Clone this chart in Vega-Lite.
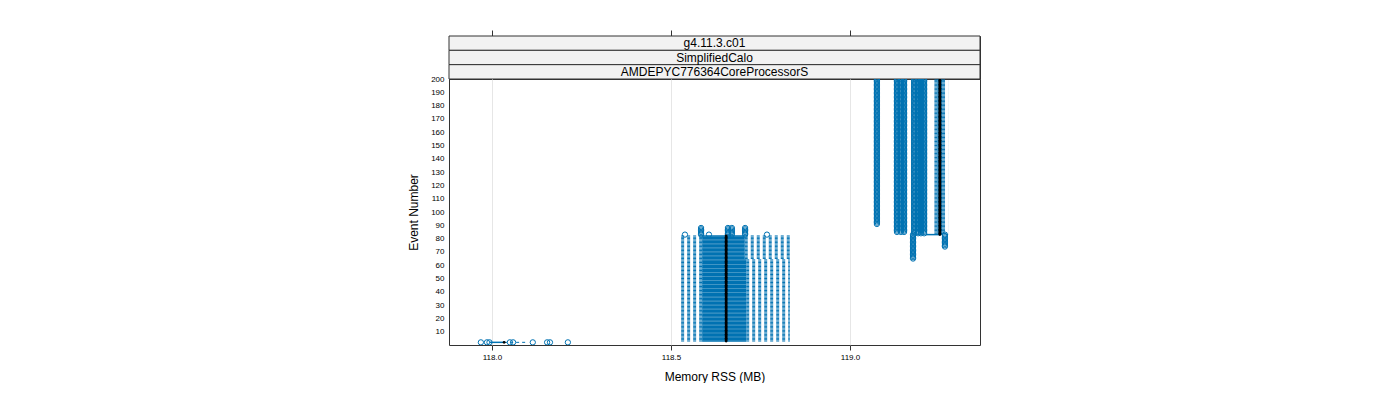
{
"$schema":"https://vega.github.io/schema/vega-lite/v6.json",
"padding":{"left":407,"top":29,"right":0,"bottom":0},
"bounds":"flush",
"config":{"font":"Liberation Sans","view":{"stroke":"#333333","strokeWidth":1},"axis":{"labelColor":"black","titleColor":"black","titleFontWeight":"normal","titleFontSize":12,"labelFontSize":8},"axisY":{"labelOverlap":false}},
"spacing":0,
"datasets":{
"stats":[
{"event":2,"lo":117.994,"q1":117.994,"med":118.034,"q3":118.034,"hi":118.1},
{"event":3,"lo":118.52,"q1":118.587,"med":118.654,"q3":118.71,"hi":118.832},
{"event":4,"lo":118.52,"q1":118.587,"med":118.654,"q3":118.71,"hi":118.832},
{"event":5,"lo":118.52,"q1":118.587,"med":118.654,"q3":118.71,"hi":118.832},
{"event":6,"lo":118.52,"q1":118.587,"med":118.654,"q3":118.71,"hi":118.832},
{"event":7,"lo":118.52,"q1":118.587,"med":118.654,"q3":118.71,"hi":118.832},
{"event":8,"lo":118.52,"q1":118.587,"med":118.654,"q3":118.71,"hi":118.832},
{"event":9,"lo":118.52,"q1":118.587,"med":118.654,"q3":118.71,"hi":118.832},
{"event":10,"lo":118.52,"q1":118.587,"med":118.654,"q3":118.71,"hi":118.832},
{"event":11,"lo":118.52,"q1":118.587,"med":118.654,"q3":118.71,"hi":118.832},
{"event":12,"lo":118.52,"q1":118.587,"med":118.654,"q3":118.71,"hi":118.832},
{"event":13,"lo":118.52,"q1":118.587,"med":118.654,"q3":118.71,"hi":118.832},
{"event":14,"lo":118.52,"q1":118.587,"med":118.654,"q3":118.71,"hi":118.832},
{"event":15,"lo":118.52,"q1":118.587,"med":118.654,"q3":118.71,"hi":118.832},
{"event":16,"lo":118.52,"q1":118.587,"med":118.654,"q3":118.71,"hi":118.832},
{"event":17,"lo":118.52,"q1":118.587,"med":118.654,"q3":118.71,"hi":118.832},
{"event":18,"lo":118.52,"q1":118.587,"med":118.654,"q3":118.71,"hi":118.832},
{"event":19,"lo":118.52,"q1":118.587,"med":118.654,"q3":118.71,"hi":118.832},
{"event":20,"lo":118.52,"q1":118.587,"med":118.654,"q3":118.71,"hi":118.832},
{"event":21,"lo":118.52,"q1":118.587,"med":118.654,"q3":118.71,"hi":118.832},
{"event":22,"lo":118.52,"q1":118.587,"med":118.654,"q3":118.71,"hi":118.832},
{"event":23,"lo":118.52,"q1":118.587,"med":118.654,"q3":118.71,"hi":118.832},
{"event":24,"lo":118.52,"q1":118.587,"med":118.654,"q3":118.71,"hi":118.832},
{"event":25,"lo":118.52,"q1":118.587,"med":118.654,"q3":118.71,"hi":118.832},
{"event":26,"lo":118.52,"q1":118.587,"med":118.654,"q3":118.71,"hi":118.832},
{"event":27,"lo":118.52,"q1":118.587,"med":118.654,"q3":118.71,"hi":118.832},
{"event":28,"lo":118.52,"q1":118.587,"med":118.654,"q3":118.71,"hi":118.832},
{"event":29,"lo":118.52,"q1":118.587,"med":118.654,"q3":118.71,"hi":118.832},
{"event":30,"lo":118.52,"q1":118.587,"med":118.654,"q3":118.71,"hi":118.832},
{"event":31,"lo":118.52,"q1":118.587,"med":118.654,"q3":118.71,"hi":118.832},
{"event":32,"lo":118.52,"q1":118.587,"med":118.654,"q3":118.71,"hi":118.832},
{"event":33,"lo":118.52,"q1":118.587,"med":118.654,"q3":118.71,"hi":118.832},
{"event":34,"lo":118.52,"q1":118.587,"med":118.654,"q3":118.71,"hi":118.832},
{"event":35,"lo":118.52,"q1":118.587,"med":118.654,"q3":118.71,"hi":118.832},
{"event":36,"lo":118.52,"q1":118.587,"med":118.654,"q3":118.71,"hi":118.832},
{"event":37,"lo":118.52,"q1":118.587,"med":118.654,"q3":118.71,"hi":118.832},
{"event":38,"lo":118.52,"q1":118.587,"med":118.654,"q3":118.71,"hi":118.832},
{"event":39,"lo":118.52,"q1":118.587,"med":118.654,"q3":118.71,"hi":118.832},
{"event":40,"lo":118.52,"q1":118.587,"med":118.654,"q3":118.71,"hi":118.832},
{"event":41,"lo":118.52,"q1":118.587,"med":118.654,"q3":118.71,"hi":118.832},
{"event":42,"lo":118.52,"q1":118.587,"med":118.654,"q3":118.71,"hi":118.832},
{"event":43,"lo":118.52,"q1":118.587,"med":118.654,"q3":118.71,"hi":118.832},
{"event":44,"lo":118.52,"q1":118.587,"med":118.654,"q3":118.71,"hi":118.832},
{"event":45,"lo":118.52,"q1":118.587,"med":118.654,"q3":118.71,"hi":118.832},
{"event":46,"lo":118.52,"q1":118.587,"med":118.654,"q3":118.71,"hi":118.832},
{"event":47,"lo":118.52,"q1":118.587,"med":118.654,"q3":118.71,"hi":118.832},
{"event":48,"lo":118.52,"q1":118.587,"med":118.654,"q3":118.71,"hi":118.832},
{"event":49,"lo":118.52,"q1":118.587,"med":118.654,"q3":118.71,"hi":118.832},
{"event":50,"lo":118.52,"q1":118.587,"med":118.654,"q3":118.71,"hi":118.832},
{"event":51,"lo":118.52,"q1":118.587,"med":118.654,"q3":118.71,"hi":118.832},
{"event":52,"lo":118.52,"q1":118.587,"med":118.654,"q3":118.71,"hi":118.832},
{"event":53,"lo":118.52,"q1":118.587,"med":118.654,"q3":118.71,"hi":118.832},
{"event":54,"lo":118.52,"q1":118.587,"med":118.654,"q3":118.71,"hi":118.832},
{"event":55,"lo":118.52,"q1":118.587,"med":118.654,"q3":118.71,"hi":118.832},
{"event":56,"lo":118.52,"q1":118.587,"med":118.654,"q3":118.71,"hi":118.832},
{"event":57,"lo":118.52,"q1":118.587,"med":118.654,"q3":118.71,"hi":118.832},
{"event":58,"lo":118.52,"q1":118.587,"med":118.654,"q3":118.71,"hi":118.832},
{"event":59,"lo":118.52,"q1":118.587,"med":118.654,"q3":118.71,"hi":118.832},
{"event":60,"lo":118.52,"q1":118.587,"med":118.654,"q3":118.71,"hi":118.832},
{"event":61,"lo":118.52,"q1":118.587,"med":118.654,"q3":118.71,"hi":118.832},
{"event":62,"lo":118.52,"q1":118.587,"med":118.654,"q3":118.71,"hi":118.832},
{"event":63,"lo":118.52,"q1":118.587,"med":118.654,"q3":118.71,"hi":118.832},
{"event":64,"lo":118.52,"q1":118.587,"med":118.654,"q3":118.71,"hi":118.832},
{"event":65,"lo":118.52,"q1":118.587,"med":118.654,"q3":118.706,"hi":118.832},
{"event":66,"lo":118.52,"q1":118.587,"med":118.654,"q3":118.706,"hi":118.832},
{"event":67,"lo":118.52,"q1":118.587,"med":118.654,"q3":118.706,"hi":118.832},
{"event":68,"lo":118.52,"q1":118.587,"med":118.654,"q3":118.706,"hi":118.832},
{"event":69,"lo":118.52,"q1":118.587,"med":118.654,"q3":118.706,"hi":118.832},
{"event":70,"lo":118.52,"q1":118.587,"med":118.654,"q3":118.706,"hi":118.832},
{"event":71,"lo":118.52,"q1":118.587,"med":118.654,"q3":118.706,"hi":118.832},
{"event":72,"lo":118.52,"q1":118.587,"med":118.654,"q3":118.706,"hi":118.832},
{"event":73,"lo":118.52,"q1":118.587,"med":118.654,"q3":118.706,"hi":118.832},
{"event":74,"lo":118.52,"q1":118.587,"med":118.654,"q3":118.706,"hi":118.832},
{"event":75,"lo":118.52,"q1":118.587,"med":118.654,"q3":118.706,"hi":118.832},
{"event":76,"lo":118.52,"q1":118.587,"med":118.654,"q3":118.706,"hi":118.832},
{"event":77,"lo":118.52,"q1":118.587,"med":118.654,"q3":118.706,"hi":118.832},
{"event":78,"lo":118.52,"q1":118.587,"med":118.654,"q3":118.706,"hi":118.832},
{"event":79,"lo":118.52,"q1":118.587,"med":118.654,"q3":118.706,"hi":118.832},
{"event":80,"lo":118.52,"q1":118.587,"med":118.654,"q3":118.706,"hi":118.832},
{"event":81,"lo":118.52,"q1":118.587,"med":118.654,"q3":118.706,"hi":118.832},
{"event":82,"lo":118.52,"q1":118.587,"med":118.654,"q3":118.706,"hi":118.832},
{"event":83,"lo":119.212,"q1":119.212,"med":119.251,"q3":119.251,"hi":119.274},
{"event":84,"lo":119.235,"q1":119.244,"med":119.251,"q3":119.257,"hi":119.274},
{"event":85,"lo":119.235,"q1":119.244,"med":119.251,"q3":119.257,"hi":119.274},
{"event":86,"lo":119.235,"q1":119.244,"med":119.251,"q3":119.257,"hi":119.274},
{"event":87,"lo":119.235,"q1":119.244,"med":119.251,"q3":119.257,"hi":119.274},
{"event":88,"lo":119.235,"q1":119.244,"med":119.251,"q3":119.257,"hi":119.274},
{"event":89,"lo":119.235,"q1":119.244,"med":119.251,"q3":119.257,"hi":119.274},
{"event":90,"lo":119.235,"q1":119.244,"med":119.251,"q3":119.257,"hi":119.274},
{"event":91,"lo":119.235,"q1":119.244,"med":119.251,"q3":119.257,"hi":119.274},
{"event":92,"lo":119.235,"q1":119.244,"med":119.251,"q3":119.257,"hi":119.274},
{"event":93,"lo":119.235,"q1":119.244,"med":119.251,"q3":119.257,"hi":119.274},
{"event":94,"lo":119.235,"q1":119.244,"med":119.251,"q3":119.257,"hi":119.274},
{"event":95,"lo":119.235,"q1":119.244,"med":119.251,"q3":119.257,"hi":119.274},
{"event":96,"lo":119.235,"q1":119.244,"med":119.251,"q3":119.257,"hi":119.274},
{"event":97,"lo":119.235,"q1":119.244,"med":119.251,"q3":119.257,"hi":119.274},
{"event":98,"lo":119.235,"q1":119.244,"med":119.251,"q3":119.257,"hi":119.274},
{"event":99,"lo":119.235,"q1":119.244,"med":119.251,"q3":119.257,"hi":119.274},
{"event":100,"lo":119.235,"q1":119.244,"med":119.251,"q3":119.257,"hi":119.274},
{"event":101,"lo":119.235,"q1":119.244,"med":119.251,"q3":119.257,"hi":119.274},
{"event":102,"lo":119.235,"q1":119.244,"med":119.251,"q3":119.257,"hi":119.274},
{"event":103,"lo":119.235,"q1":119.244,"med":119.251,"q3":119.257,"hi":119.274},
{"event":104,"lo":119.235,"q1":119.244,"med":119.251,"q3":119.257,"hi":119.274},
{"event":105,"lo":119.235,"q1":119.244,"med":119.251,"q3":119.257,"hi":119.274},
{"event":106,"lo":119.235,"q1":119.244,"med":119.251,"q3":119.257,"hi":119.274},
{"event":107,"lo":119.235,"q1":119.244,"med":119.251,"q3":119.257,"hi":119.274},
{"event":108,"lo":119.235,"q1":119.244,"med":119.251,"q3":119.257,"hi":119.274},
{"event":109,"lo":119.235,"q1":119.244,"med":119.251,"q3":119.257,"hi":119.274},
{"event":110,"lo":119.235,"q1":119.244,"med":119.251,"q3":119.257,"hi":119.274},
{"event":111,"lo":119.235,"q1":119.244,"med":119.251,"q3":119.257,"hi":119.274},
{"event":112,"lo":119.235,"q1":119.244,"med":119.251,"q3":119.257,"hi":119.274},
{"event":113,"lo":119.235,"q1":119.244,"med":119.251,"q3":119.257,"hi":119.274},
{"event":114,"lo":119.235,"q1":119.244,"med":119.251,"q3":119.257,"hi":119.274},
{"event":115,"lo":119.235,"q1":119.244,"med":119.251,"q3":119.257,"hi":119.274},
{"event":116,"lo":119.235,"q1":119.244,"med":119.251,"q3":119.257,"hi":119.274},
{"event":117,"lo":119.235,"q1":119.244,"med":119.251,"q3":119.257,"hi":119.274},
{"event":118,"lo":119.235,"q1":119.244,"med":119.251,"q3":119.257,"hi":119.274},
{"event":119,"lo":119.235,"q1":119.244,"med":119.251,"q3":119.257,"hi":119.274},
{"event":120,"lo":119.235,"q1":119.244,"med":119.251,"q3":119.257,"hi":119.274},
{"event":121,"lo":119.235,"q1":119.244,"med":119.251,"q3":119.257,"hi":119.274},
{"event":122,"lo":119.235,"q1":119.244,"med":119.251,"q3":119.257,"hi":119.274},
{"event":123,"lo":119.235,"q1":119.244,"med":119.251,"q3":119.257,"hi":119.274},
{"event":124,"lo":119.235,"q1":119.244,"med":119.251,"q3":119.257,"hi":119.274},
{"event":125,"lo":119.235,"q1":119.244,"med":119.251,"q3":119.257,"hi":119.274},
{"event":126,"lo":119.235,"q1":119.244,"med":119.251,"q3":119.257,"hi":119.274},
{"event":127,"lo":119.235,"q1":119.244,"med":119.251,"q3":119.257,"hi":119.274},
{"event":128,"lo":119.235,"q1":119.244,"med":119.251,"q3":119.257,"hi":119.274},
{"event":129,"lo":119.235,"q1":119.244,"med":119.251,"q3":119.257,"hi":119.274},
{"event":130,"lo":119.235,"q1":119.244,"med":119.251,"q3":119.257,"hi":119.274},
{"event":131,"lo":119.235,"q1":119.244,"med":119.251,"q3":119.257,"hi":119.274},
{"event":132,"lo":119.235,"q1":119.244,"med":119.251,"q3":119.257,"hi":119.274},
{"event":133,"lo":119.235,"q1":119.244,"med":119.251,"q3":119.257,"hi":119.274},
{"event":134,"lo":119.235,"q1":119.244,"med":119.251,"q3":119.257,"hi":119.274},
{"event":135,"lo":119.235,"q1":119.244,"med":119.251,"q3":119.257,"hi":119.274},
{"event":136,"lo":119.235,"q1":119.244,"med":119.251,"q3":119.257,"hi":119.274},
{"event":137,"lo":119.235,"q1":119.244,"med":119.251,"q3":119.257,"hi":119.274},
{"event":138,"lo":119.235,"q1":119.244,"med":119.251,"q3":119.257,"hi":119.274},
{"event":139,"lo":119.235,"q1":119.244,"med":119.251,"q3":119.257,"hi":119.274},
{"event":140,"lo":119.235,"q1":119.244,"med":119.251,"q3":119.257,"hi":119.274},
{"event":141,"lo":119.235,"q1":119.244,"med":119.251,"q3":119.257,"hi":119.274},
{"event":142,"lo":119.235,"q1":119.244,"med":119.251,"q3":119.257,"hi":119.274},
{"event":143,"lo":119.235,"q1":119.244,"med":119.251,"q3":119.257,"hi":119.274},
{"event":144,"lo":119.235,"q1":119.244,"med":119.251,"q3":119.257,"hi":119.274},
{"event":145,"lo":119.235,"q1":119.244,"med":119.251,"q3":119.257,"hi":119.274},
{"event":146,"lo":119.235,"q1":119.244,"med":119.251,"q3":119.257,"hi":119.274},
{"event":147,"lo":119.235,"q1":119.244,"med":119.251,"q3":119.257,"hi":119.274},
{"event":148,"lo":119.235,"q1":119.244,"med":119.251,"q3":119.257,"hi":119.274},
{"event":149,"lo":119.235,"q1":119.244,"med":119.251,"q3":119.257,"hi":119.274},
{"event":150,"lo":119.235,"q1":119.244,"med":119.251,"q3":119.257,"hi":119.274},
{"event":151,"lo":119.235,"q1":119.244,"med":119.251,"q3":119.257,"hi":119.274},
{"event":152,"lo":119.235,"q1":119.244,"med":119.251,"q3":119.257,"hi":119.274},
{"event":153,"lo":119.235,"q1":119.244,"med":119.251,"q3":119.257,"hi":119.274},
{"event":154,"lo":119.235,"q1":119.244,"med":119.251,"q3":119.257,"hi":119.274},
{"event":155,"lo":119.235,"q1":119.244,"med":119.251,"q3":119.257,"hi":119.274},
{"event":156,"lo":119.235,"q1":119.244,"med":119.251,"q3":119.257,"hi":119.274},
{"event":157,"lo":119.235,"q1":119.244,"med":119.251,"q3":119.257,"hi":119.274},
{"event":158,"lo":119.235,"q1":119.244,"med":119.251,"q3":119.257,"hi":119.274},
{"event":159,"lo":119.235,"q1":119.244,"med":119.251,"q3":119.257,"hi":119.274},
{"event":160,"lo":119.235,"q1":119.244,"med":119.251,"q3":119.257,"hi":119.274},
{"event":161,"lo":119.235,"q1":119.244,"med":119.251,"q3":119.257,"hi":119.274},
{"event":162,"lo":119.235,"q1":119.244,"med":119.251,"q3":119.257,"hi":119.274},
{"event":163,"lo":119.235,"q1":119.244,"med":119.251,"q3":119.257,"hi":119.274},
{"event":164,"lo":119.235,"q1":119.244,"med":119.251,"q3":119.257,"hi":119.274},
{"event":165,"lo":119.235,"q1":119.244,"med":119.251,"q3":119.257,"hi":119.274},
{"event":166,"lo":119.235,"q1":119.244,"med":119.251,"q3":119.257,"hi":119.274},
{"event":167,"lo":119.235,"q1":119.244,"med":119.251,"q3":119.257,"hi":119.274},
{"event":168,"lo":119.235,"q1":119.244,"med":119.251,"q3":119.257,"hi":119.274},
{"event":169,"lo":119.235,"q1":119.244,"med":119.251,"q3":119.257,"hi":119.274},
{"event":170,"lo":119.235,"q1":119.244,"med":119.251,"q3":119.257,"hi":119.274},
{"event":171,"lo":119.235,"q1":119.244,"med":119.251,"q3":119.257,"hi":119.274},
{"event":172,"lo":119.235,"q1":119.244,"med":119.251,"q3":119.257,"hi":119.274},
{"event":173,"lo":119.235,"q1":119.244,"med":119.251,"q3":119.257,"hi":119.274},
{"event":174,"lo":119.235,"q1":119.244,"med":119.251,"q3":119.257,"hi":119.274},
{"event":175,"lo":119.235,"q1":119.244,"med":119.251,"q3":119.257,"hi":119.274},
{"event":176,"lo":119.235,"q1":119.244,"med":119.251,"q3":119.257,"hi":119.274},
{"event":177,"lo":119.235,"q1":119.244,"med":119.251,"q3":119.257,"hi":119.274},
{"event":178,"lo":119.235,"q1":119.244,"med":119.251,"q3":119.257,"hi":119.274},
{"event":179,"lo":119.235,"q1":119.244,"med":119.251,"q3":119.257,"hi":119.274},
{"event":180,"lo":119.235,"q1":119.244,"med":119.251,"q3":119.257,"hi":119.274},
{"event":181,"lo":119.235,"q1":119.244,"med":119.251,"q3":119.257,"hi":119.274},
{"event":182,"lo":119.235,"q1":119.244,"med":119.251,"q3":119.257,"hi":119.274},
{"event":183,"lo":119.235,"q1":119.244,"med":119.251,"q3":119.257,"hi":119.274},
{"event":184,"lo":119.235,"q1":119.244,"med":119.251,"q3":119.257,"hi":119.274},
{"event":185,"lo":119.235,"q1":119.244,"med":119.251,"q3":119.257,"hi":119.274},
{"event":186,"lo":119.235,"q1":119.244,"med":119.251,"q3":119.257,"hi":119.274},
{"event":187,"lo":119.235,"q1":119.244,"med":119.251,"q3":119.257,"hi":119.274},
{"event":188,"lo":119.235,"q1":119.244,"med":119.251,"q3":119.257,"hi":119.274},
{"event":189,"lo":119.235,"q1":119.244,"med":119.251,"q3":119.257,"hi":119.274},
{"event":190,"lo":119.235,"q1":119.244,"med":119.251,"q3":119.257,"hi":119.274},
{"event":191,"lo":119.235,"q1":119.244,"med":119.251,"q3":119.257,"hi":119.274},
{"event":192,"lo":119.235,"q1":119.244,"med":119.251,"q3":119.257,"hi":119.274},
{"event":193,"lo":119.235,"q1":119.244,"med":119.251,"q3":119.257,"hi":119.274},
{"event":194,"lo":119.235,"q1":119.244,"med":119.251,"q3":119.257,"hi":119.274},
{"event":195,"lo":119.235,"q1":119.244,"med":119.251,"q3":119.257,"hi":119.274},
{"event":196,"lo":119.235,"q1":119.244,"med":119.251,"q3":119.257,"hi":119.274},
{"event":197,"lo":119.235,"q1":119.244,"med":119.251,"q3":119.257,"hi":119.274},
{"event":198,"lo":119.235,"q1":119.244,"med":119.251,"q3":119.257,"hi":119.274},
{"event":199,"lo":119.235,"q1":119.244,"med":119.251,"q3":119.257,"hi":119.274},
{"event":200,"lo":119.235,"q1":119.244,"med":119.251,"q3":119.257,"hi":119.274}
],
"outliers":[
{"event":2,"rss":[117.969,117.986,117.993,118.05,118.059,118.114,118.154,118.162,118.212]},
{"event":65,"rss":[119.176]},
{"event":66,"rss":[119.176]},
{"event":67,"rss":[119.176]},
{"event":68,"rss":[119.176]},
{"event":69,"rss":[119.176]},
{"event":70,"rss":[119.176]},
{"event":71,"rss":[119.176]},
{"event":72,"rss":[119.176]},
{"event":73,"rss":[119.176]},
{"event":74,"rss":[119.176,119.265]},
{"event":75,"rss":[119.176,119.265]},
{"event":76,"rss":[119.176,119.265]},
{"event":77,"rss":[119.176,119.265]},
{"event":78,"rss":[119.176,119.265]},
{"event":79,"rss":[119.176,119.265]},
{"event":80,"rss":[119.176,119.265]},
{"event":81,"rss":[119.176,119.265]},
{"event":82,"rss":[119.176,119.265]},
{"event":83,"rss":[118.539,118.584,118.606,118.659,118.67,118.707,118.768,119.176,119.265]},
{"event":84,"rss":[118.584,118.659,118.67,118.707,119.179,119.19,119.198,119.207]},
{"event":85,"rss":[118.584,118.659,118.67,118.707,119.131,119.142,119.151,119.179,119.19,119.198,119.207]},
{"event":86,"rss":[118.584,118.659,118.67,118.707,119.131,119.142,119.151,119.179,119.19,119.198,119.207]},
{"event":87,"rss":[118.584,118.659,118.67,118.707,119.131,119.142,119.151,119.179,119.19,119.198,119.207]},
{"event":88,"rss":[118.584,118.659,118.67,118.707,119.131,119.142,119.151,119.179,119.19,119.198,119.207]},
{"event":89,"rss":[119.131,119.142,119.151,119.179,119.19,119.198,119.207]},
{"event":90,"rss":[119.131,119.142,119.151,119.179,119.19,119.198,119.207]},
{"event":91,"rss":[119.075,119.131,119.142,119.151,119.179,119.19,119.198,119.207]},
{"event":92,"rss":[119.075,119.131,119.142,119.151,119.179,119.19,119.198,119.207]},
{"event":93,"rss":[119.075,119.131,119.142,119.151,119.179,119.19,119.198,119.207]},
{"event":94,"rss":[119.075,119.131,119.142,119.151,119.179,119.19,119.198,119.207]},
{"event":95,"rss":[119.075,119.131,119.142,119.151,119.179,119.19,119.198,119.207]},
{"event":96,"rss":[119.075,119.131,119.142,119.151,119.179,119.19,119.198,119.207]},
{"event":97,"rss":[119.075,119.131,119.142,119.151,119.179,119.19,119.198,119.207]},
{"event":98,"rss":[119.075,119.131,119.142,119.151,119.179,119.19,119.198,119.207]},
{"event":99,"rss":[119.075,119.131,119.142,119.151,119.179,119.19,119.198,119.207]},
{"event":100,"rss":[119.075,119.131,119.142,119.151,119.179,119.19,119.198,119.207]},
{"event":101,"rss":[119.075,119.131,119.142,119.151,119.179,119.19,119.198,119.207]},
{"event":102,"rss":[119.075,119.131,119.142,119.151,119.179,119.19,119.198,119.207]},
{"event":103,"rss":[119.075,119.131,119.142,119.151,119.179,119.19,119.198,119.207]},
{"event":104,"rss":[119.075,119.131,119.142,119.151,119.179,119.19,119.198,119.207]},
{"event":105,"rss":[119.075,119.131,119.142,119.151,119.179,119.19,119.198,119.207]},
{"event":106,"rss":[119.075,119.131,119.142,119.151,119.179,119.19,119.198,119.207]},
{"event":107,"rss":[119.075,119.131,119.142,119.151,119.179,119.19,119.198,119.207]},
{"event":108,"rss":[119.075,119.131,119.142,119.151,119.179,119.19,119.198,119.207]},
{"event":109,"rss":[119.075,119.131,119.142,119.151,119.179,119.19,119.198,119.207]},
{"event":110,"rss":[119.075,119.131,119.142,119.151,119.179,119.19,119.198,119.207]},
{"event":111,"rss":[119.075,119.131,119.142,119.151,119.179,119.19,119.198,119.207]},
{"event":112,"rss":[119.075,119.131,119.142,119.151,119.179,119.19,119.198,119.207]},
{"event":113,"rss":[119.075,119.131,119.142,119.151,119.179,119.19,119.198,119.207]},
{"event":114,"rss":[119.075,119.131,119.142,119.151,119.179,119.19,119.198,119.207]},
{"event":115,"rss":[119.075,119.131,119.142,119.151,119.179,119.19,119.198,119.207]},
{"event":116,"rss":[119.075,119.131,119.142,119.151,119.179,119.19,119.198,119.207]},
{"event":117,"rss":[119.075,119.131,119.142,119.151,119.179,119.19,119.198,119.207]},
{"event":118,"rss":[119.075,119.131,119.142,119.151,119.179,119.19,119.198,119.207]},
{"event":119,"rss":[119.075,119.131,119.142,119.151,119.179,119.19,119.198,119.207]},
{"event":120,"rss":[119.075,119.131,119.142,119.151,119.179,119.19,119.198,119.207]},
{"event":121,"rss":[119.075,119.131,119.142,119.151,119.179,119.19,119.198,119.207]},
{"event":122,"rss":[119.075,119.131,119.142,119.151,119.179,119.19,119.198,119.207]},
{"event":123,"rss":[119.075,119.131,119.142,119.151,119.179,119.19,119.198,119.207]},
{"event":124,"rss":[119.075,119.131,119.142,119.151,119.179,119.19,119.198,119.207]},
{"event":125,"rss":[119.075,119.131,119.142,119.151,119.179,119.19,119.198,119.207]},
{"event":126,"rss":[119.075,119.131,119.142,119.151,119.179,119.19,119.198,119.207]},
{"event":127,"rss":[119.075,119.131,119.142,119.151,119.179,119.19,119.198,119.207]},
{"event":128,"rss":[119.075,119.131,119.142,119.151,119.179,119.19,119.198,119.207]},
{"event":129,"rss":[119.075,119.131,119.142,119.151,119.179,119.19,119.198,119.207]},
{"event":130,"rss":[119.075,119.131,119.142,119.151,119.179,119.19,119.198,119.207]},
{"event":131,"rss":[119.075,119.131,119.142,119.151,119.179,119.19,119.198,119.207]},
{"event":132,"rss":[119.075,119.131,119.142,119.151,119.179,119.19,119.198,119.207]},
{"event":133,"rss":[119.075,119.131,119.142,119.151,119.179,119.19,119.198,119.207]},
{"event":134,"rss":[119.075,119.131,119.142,119.151,119.179,119.19,119.198,119.207]},
{"event":135,"rss":[119.075,119.131,119.142,119.151,119.179,119.19,119.198,119.207]},
{"event":136,"rss":[119.075,119.131,119.142,119.151,119.179,119.19,119.198,119.207]},
{"event":137,"rss":[119.075,119.131,119.142,119.151,119.179,119.19,119.198,119.207]},
{"event":138,"rss":[119.075,119.131,119.142,119.151,119.179,119.19,119.198,119.207]},
{"event":139,"rss":[119.075,119.131,119.142,119.151,119.179,119.19,119.198,119.207]},
{"event":140,"rss":[119.075,119.131,119.142,119.151,119.179,119.19,119.198,119.207]},
{"event":141,"rss":[119.075,119.131,119.142,119.151,119.179,119.19,119.198,119.207]},
{"event":142,"rss":[119.075,119.131,119.142,119.151,119.179,119.19,119.198,119.207]},
{"event":143,"rss":[119.075,119.131,119.142,119.151,119.179,119.19,119.198,119.207]},
{"event":144,"rss":[119.075,119.131,119.142,119.151,119.179,119.19,119.198,119.207]},
{"event":145,"rss":[119.075,119.131,119.142,119.151,119.179,119.19,119.198,119.207]},
{"event":146,"rss":[119.075,119.131,119.142,119.151,119.179,119.19,119.198,119.207]},
{"event":147,"rss":[119.075,119.131,119.142,119.151,119.179,119.19,119.198,119.207]},
{"event":148,"rss":[119.075,119.131,119.142,119.151,119.179,119.19,119.198,119.207]},
{"event":149,"rss":[119.075,119.131,119.142,119.151,119.179,119.19,119.198,119.207]},
{"event":150,"rss":[119.075,119.131,119.142,119.151,119.179,119.19,119.198,119.207]},
{"event":151,"rss":[119.075,119.131,119.142,119.151,119.179,119.19,119.198,119.207]},
{"event":152,"rss":[119.075,119.131,119.142,119.151,119.179,119.19,119.198,119.207]},
{"event":153,"rss":[119.075,119.131,119.142,119.151,119.179,119.19,119.198,119.207]},
{"event":154,"rss":[119.075,119.131,119.142,119.151,119.179,119.19,119.198,119.207]},
{"event":155,"rss":[119.075,119.131,119.142,119.151,119.179,119.19,119.198,119.207]},
{"event":156,"rss":[119.075,119.131,119.142,119.151,119.179,119.19,119.198,119.207]},
{"event":157,"rss":[119.075,119.131,119.142,119.151,119.179,119.19,119.198,119.207]},
{"event":158,"rss":[119.075,119.131,119.142,119.151,119.179,119.19,119.198,119.207]},
{"event":159,"rss":[119.075,119.131,119.142,119.151,119.179,119.19,119.198,119.207]},
{"event":160,"rss":[119.075,119.131,119.142,119.151,119.179,119.19,119.198,119.207]},
{"event":161,"rss":[119.075,119.131,119.142,119.151,119.179,119.19,119.198,119.207]},
{"event":162,"rss":[119.075,119.131,119.142,119.151,119.179,119.19,119.198,119.207]},
{"event":163,"rss":[119.075,119.131,119.142,119.151,119.179,119.19,119.198,119.207]},
{"event":164,"rss":[119.075,119.131,119.142,119.151,119.179,119.19,119.198,119.207]},
{"event":165,"rss":[119.075,119.131,119.142,119.151,119.179,119.19,119.198,119.207]},
{"event":166,"rss":[119.075,119.131,119.142,119.151,119.179,119.19,119.198,119.207]},
{"event":167,"rss":[119.075,119.131,119.142,119.151,119.179,119.19,119.198,119.207]},
{"event":168,"rss":[119.075,119.131,119.142,119.151,119.179,119.19,119.198,119.207]},
{"event":169,"rss":[119.075,119.131,119.142,119.151,119.179,119.19,119.198,119.207]},
{"event":170,"rss":[119.075,119.131,119.142,119.151,119.179,119.19,119.198,119.207]},
{"event":171,"rss":[119.075,119.131,119.142,119.151,119.179,119.19,119.198,119.207]},
{"event":172,"rss":[119.075,119.131,119.142,119.151,119.179,119.19,119.198,119.207]},
{"event":173,"rss":[119.075,119.131,119.142,119.151,119.179,119.19,119.198,119.207]},
{"event":174,"rss":[119.075,119.131,119.142,119.151,119.179,119.19,119.198,119.207]},
{"event":175,"rss":[119.075,119.131,119.142,119.151,119.179,119.19,119.198,119.207]},
{"event":176,"rss":[119.075,119.131,119.142,119.151,119.179,119.19,119.198,119.207]},
{"event":177,"rss":[119.075,119.131,119.142,119.151,119.179,119.19,119.198,119.207]},
{"event":178,"rss":[119.075,119.131,119.142,119.151,119.179,119.19,119.198,119.207]},
{"event":179,"rss":[119.075,119.131,119.142,119.151,119.179,119.19,119.198,119.207]},
{"event":180,"rss":[119.075,119.131,119.142,119.151,119.179,119.19,119.198,119.207]},
{"event":181,"rss":[119.075,119.131,119.142,119.151,119.179,119.19,119.198,119.207]},
{"event":182,"rss":[119.075,119.131,119.142,119.151,119.179,119.19,119.198,119.207]},
{"event":183,"rss":[119.075,119.131,119.142,119.151,119.179,119.19,119.198,119.207]},
{"event":184,"rss":[119.075,119.131,119.142,119.151,119.179,119.19,119.198,119.207]},
{"event":185,"rss":[119.075,119.131,119.142,119.151,119.179,119.19,119.198,119.207]},
{"event":186,"rss":[119.075,119.131,119.142,119.151,119.179,119.19,119.198,119.207]},
{"event":187,"rss":[119.075,119.131,119.142,119.151,119.179,119.19,119.198,119.207]},
{"event":188,"rss":[119.075,119.131,119.142,119.151,119.179,119.19,119.198,119.207]},
{"event":189,"rss":[119.075,119.131,119.142,119.151,119.179,119.19,119.198,119.207]},
{"event":190,"rss":[119.075,119.131,119.142,119.151,119.179,119.19,119.198,119.207]},
{"event":191,"rss":[119.075,119.131,119.142,119.151,119.179,119.19,119.198,119.207]},
{"event":192,"rss":[119.075,119.131,119.142,119.151,119.179,119.19,119.198,119.207]},
{"event":193,"rss":[119.075,119.131,119.142,119.151,119.179,119.19,119.198,119.207]},
{"event":194,"rss":[119.075,119.131,119.142,119.151,119.179,119.19,119.198,119.207]},
{"event":195,"rss":[119.075,119.131,119.142,119.151,119.179,119.19,119.198,119.207]},
{"event":196,"rss":[119.075,119.131,119.142,119.151,119.179,119.19,119.198,119.207]},
{"event":197,"rss":[119.075,119.131,119.142,119.151,119.179,119.19,119.198,119.207]},
{"event":198,"rss":[119.075,119.131,119.142,119.151,119.179,119.19,119.198,119.207]},
{"event":199,"rss":[119.075,119.131,119.142,119.151,119.179,119.19,119.198,119.207]},
{"event":200,"rss":[119.075,119.131,119.142,119.151,119.179,119.19,119.198,119.207]}
]
},
"vconcat":[
{
"width":531,"height":43,
"data":{"values":[{"label":"g4.11.3.c01"},{"label":"SimplifiedCalo"},{"label":"AMDEPYC776364CoreProcessorS"}]},
"layer":[
{"mark":{"type":"rect","fill":"#f2f2f2","stroke":"#333333","strokeWidth":1},
 "encoding":{"y":{"field":"label","type":"nominal","sort":null,"scale":{"paddingInner":0,"paddingOuter":0},"axis":null}}},
{"mark":{"type":"text","fontSize":12,"color":"black"},
 "encoding":{"y":{"field":"label","type":"nominal","sort":null,"axis":null},"text":{"field":"label"}}},
{"data":{"name":"stats"},"mark":{"type":"rule","opacity":0},
 "encoding":{"x":{"field":"med","type":"quantitative","scale":{"domain":[117.88,119.363],"nice":false,"zero":false},
  "axis":{"orient":"top","values":[118,118.5,119],"labels":false,"ticks":true,"tickSize":6,"tickColor":"#333333","domain":false,"grid":false,"title":null}}}}
]
},
{
"width":531,"height":266,
"encoding":{
  "y":{"field":"event","type":"quantitative","scale":{"domain":[0,200],"nice":false,"zero":false},
   "axis":{"values":[10,20,30,40,50,60,70,80,90,100,110,120,130,140,150,160,170,180,190,200],"labelOverlap":false,"labelBound":false,"ticks":false,"domain":false,"grid":false,"labelPadding":5,"titlePadding":10,"title":"Event Number"}}},
"layer":[
{"data":{"name":"stats"},"mark":{"type":"rule","color":"#0072B2","strokeDash":[3,3],"strokeWidth":1,"clip":true},
 "encoding":{
  "x":{"field":"q1","type":"quantitative","scale":{"domain":[117.88,119.363],"nice":false,"zero":false},
   "axis":{"values":[118,118.5,119],"format":".1f","tickSize":5,"tickColor":"#333333","domain":false,"grid":true,"gridColor":"#e6e6e6","labelPadding":3,"titlePadding":10,"title":"Memory RSS (MB)"}},
  "x2":{"field":"lo"}}},
{"data":{"name":"stats"},"mark":{"type":"rule","color":"#0072B2","strokeDash":[3,3],"strokeWidth":1,"clip":true},
 "encoding":{"x":{"field":"q3","type":"quantitative"},"x2":{"field":"hi"}}},
{"data":{"name":"stats"},"mark":{"type":"rule","color":"#0072B2","strokeWidth":1.5,"clip":true},
 "encoding":{"x":{"field":"q1","type":"quantitative"},"x2":{"field":"q3"}}},
{"data":{"name":"outliers"},"transform":[{"flatten":["rss"]}],
 "mark":{"type":"point","shape":"circle","filled":false,"size":28,"stroke":"#0072B2","strokeWidth":1,"opacity":1,"clip":true},
 "encoding":{"x":{"field":"rss","type":"quantitative"}}},
{"data":{"name":"stats"},"mark":{"type":"point","shape":"circle","filled":true,"size":8,"color":"black","opacity":1,"clip":true},
 "encoding":{"x":{"field":"med","type":"quantitative"}}}
]
}
]
}
